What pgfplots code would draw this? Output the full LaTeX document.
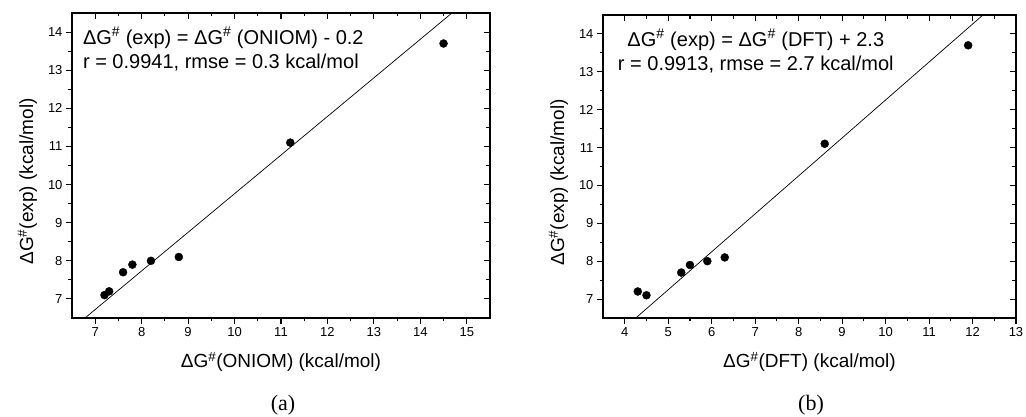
\documentclass[border=0pt]{standalone}
\usepackage{fontspec}
\setmainfont{Liberation Sans}
\newfontfamily\serif{Liberation Serif}
\usepackage{pgfplots}
\pgfplotsset{compat=1.18}

\pgfplotsset{
  panel/.style={
    scale only axis, anchor=south west,
    axis line style={line width=1.2pt},
    every tick/.style={line width=1.1pt, black},
    major tick length=6pt, minor tick length=3.5pt,
    minor tick num=1,
    ymin=6.5, ymax=14.5, ytick={7,...,14},
    /pgf/number format/assume math mode=true,
    tick label style={font=\fontsize{13}{15}\selectfont},
    label style={font=\fontsize{19}{22}\selectfont},
  },
  lower/.style={panel, tick align=outside,
    xtick pos=bottom, ytick pos=left},
  upper/.style={panel, tick align=inside,
    xtick pos=top, ytick pos=right,
    xticklabels={}, yticklabels={}},
  dots/.style={only marks, mark=*, mark size=4pt, black},
  fit/.style={black, line width=0.7pt, no marks},
}

\begin{document}
\begin{tikzpicture}
\useasboundingbox (0pt,0pt) rectangle (1026pt,417pt);

% (a) ONIOM
\begin{axis}[lower, at={(72pt,99pt)}, width=418pt, height=305pt,
  xmin=6.5, xmax=15.5, xtick={7,...,15},
  xlabel={ΔG\textsuperscript{\#}(ONIOM) (kcal/mol)},
  ylabel={ΔG\textsuperscript{\#}(exp) (kcal/mol)},
  xlabel style={yshift=-9pt}, ylabel style={yshift=4pt, xshift=-16pt}]
  \addplot[fit] coordinates {(6.78,6.5) (14.68,14.5)};
  \addplot[dots] coordinates {
    (7.2,7.1) (7.3,7.2) (7.6,7.7) (7.8,7.9)
    (8.2,8.0) (8.8,8.1) (11.2,11.1) (14.5,13.7)};
  \node[anchor=north west, align=left, font=\fontsize{20}{24}\selectfont]
    at (rel axis cs:0.018,0.965)
    {ΔG\textsuperscript{\#} (exp) = ΔG\textsuperscript{\#} (ONIOM) - 0.2\\
     r = 0.9941, rmse = 0.3 kcal/mol};
\end{axis}
\begin{axis}[upper, at={(72pt,99pt)}, width=418pt, height=305pt,
  xmin=6.5, xmax=15.5, xtick={7,...,15}]
\end{axis}
\node[font=\serif\fontsize{22}{24}\selectfont] at (283pt,12pt) {(a)};

% (b) DFT
\begin{axis}[lower, at={(603pt,99pt)}, width=413pt, height=303pt,
  xmin=3.5, xmax=13, xtick={4,...,13},
  xlabel={ΔG\textsuperscript{\#}(DFT) (kcal/mol)},
  ylabel={ΔG\textsuperscript{\#}(exp) (kcal/mol)},
  xlabel style={yshift=-9pt}, ylabel style={yshift=4pt, xshift=-16pt}]
  \addplot[fit] coordinates {(4.255,6.5) (12.24,14.5)};
  \addplot[dots] coordinates {
    (4.3,7.2) (4.5,7.1) (5.3,7.7) (5.5,7.9)
    (5.9,8.0) (6.3,8.1) (8.6,11.1) (11.9,13.7)};
  \node[anchor=north, align=center, font=\fontsize{20}{24}\selectfont]
    at (rel axis cs:0.37,0.965)
    {ΔG\textsuperscript{\#} (exp) = ΔG\textsuperscript{\#} (DFT) + 2.3\\
     r = 0.9913, rmse = 2.7 kcal/mol};
\end{axis}
\begin{axis}[upper, at={(603pt,99pt)}, width=413pt, height=303pt,
  xmin=3.5, xmax=13, xtick={4,...,13}]
\end{axis}
\node[font=\serif\fontsize{22}{24}\selectfont] at (811pt,12pt) {(b)};
\end{tikzpicture}
\end{document}
